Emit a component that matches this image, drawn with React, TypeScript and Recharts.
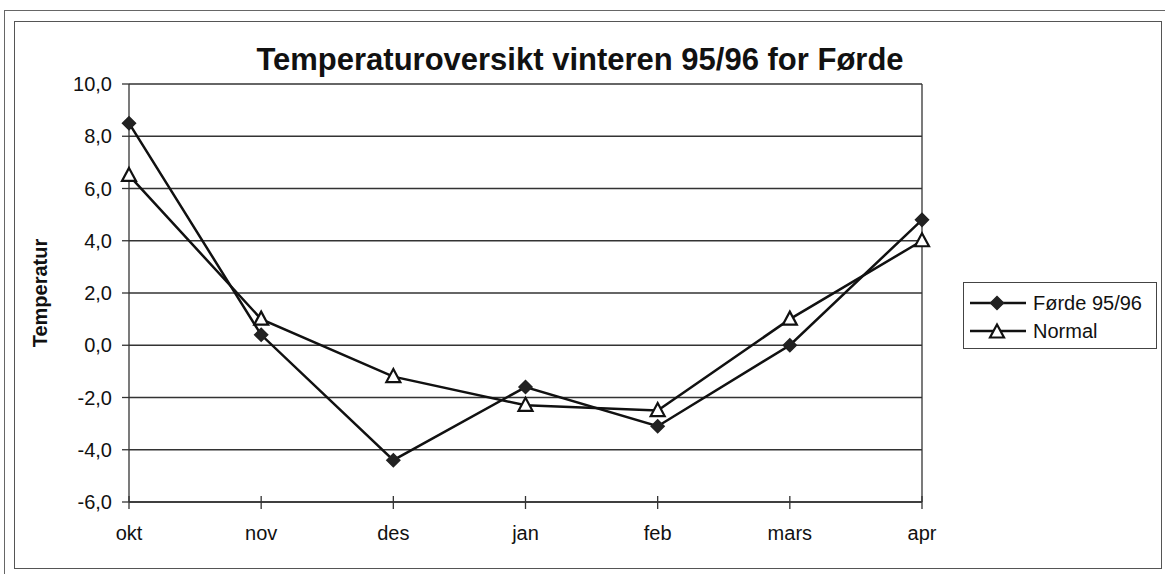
import { LineChart, Line, XAxis, YAxis, CartesianGrid, Legend, ReferenceLine } from 'recharts'

const months = ['okt', 'nov', 'des', 'jan', 'feb', 'mars', 'apr']
const forde9596 = [8.5, 0.4, -4.4, -1.6, -3.1, 0.0, 4.8]
const normal = [6.5, 1.0, -1.2, -2.3, -2.5, 1.0, 4.0]
const yTicks = [-6, -4, -2, 0, 2, 4, 6, 8, 10]

const seriesNames = { forde: 'Førde 95/96', normal: 'Normal' }
const title = 'Temperaturoversikt vinteren 95/96 for Førde'
const yLabel = 'Temperatur'

const data = months.map((m, i) => ({ month: m, forde: forde9596[i], normal: normal[i] }))

const FONT = '"Liberation Sans", Arial, sans-serif'
const INK = '#111'
const GRID = '#333'

const fmt = (v: number) => v.toFixed(1).replace('.', ',')

function Diamond({ cx, cy, r = 6.5 }: any) {
  if (cx == null || cy == null) return null
  return (
    <polygon
      points={`${cx},${cy - r} ${cx + r},${cy} ${cx},${cy + r} ${cx - r},${cy}`}
      fill="#222"
      stroke="#222"
      strokeWidth={1.5}
    />
  )
}

function Triangle({ cx, cy }: any) {
  if (cx == null || cy == null) return null
  return (
    <polygon
      points={`${cx},${cy - 7.5} ${cx + 7},${cy + 5.5} ${cx - 7},${cy + 5.5}`}
      fill="#fff"
      stroke={INK}
      strokeWidth={2.2}
    />
  )
}

function MonthTick({ x, y, payload }: any) {
  return (
    <g>
      <line x1={x} x2={x} y1={y - 6} y2={y + 7} stroke={GRID} strokeWidth={1.3} />
      <text x={x} y={y + 38} textAnchor="middle" fontSize={20} fontFamily={FONT} fill={INK}>
        {payload.value}
      </text>
    </g>
  )
}

function YTitle({ viewBox }: any) {
  const cy = viewBox ? viewBox.y + viewBox.height / 2 : 293
  return (
    <text
      x={47}
      y={cy}
      transform={`rotate(-90 47 ${cy})`}
      textAnchor="middle"
      fontSize={20}
      fontWeight="bold"
      fontFamily={FONT}
      fill={INK}
    >
      {yLabel}
    </text>
  )
}

function LegendBox() {
  const rows = [
    { name: seriesNames.forde, marker: <Diamond cx={28} cy={10} /> },
    { name: seriesNames.normal, marker: <Triangle cx={28} cy={11} /> },
  ]
  return (
    <div
      style={{
        boxSizing: 'border-box',
        width: 194,
        height: 67,
        border: '1.5px solid #444',
        padding: '6px 0 0 5px',
        fontFamily: FONT,
        fontSize: 20,
        color: INK,
        background: '#fff',
      }}
    >
      {rows.map((r) => (
        <div key={r.name} style={{ display: 'flex', alignItems: 'center', height: 28 }}>
          <svg width={58} height={20} style={{ marginRight: 6 }}>
            <line x1={1} x2={57} y1={10} y2={10} stroke={INK} strokeWidth={2.5} />
            {r.marker}
          </svg>
          <span>{r.name}</span>
        </div>
      ))}
    </div>
  )
}

export default function App() {
  return (
    <div style={{ position: 'relative', width: 1165, height: 574, background: '#fff', overflow: 'hidden' }}>
      <style>{'body{margin:0}'}</style>
      <div style={{ position: 'absolute', left: 4, top: 10, width: 1200, height: 600, border: '1.5px solid #666' }} />
      <div style={{ position: 'absolute', left: 14, top: 21, width: 1148, height: 548, boxSizing: 'border-box', border: '1.5px solid #555' }} />
      <div
        style={{
          position: 'absolute',
          left: 0,
          top: 45,
          width: 1160,
          textAlign: 'center',
          fontFamily: FONT,
          fontWeight: 'bold',
          fontSize: 31,
          lineHeight: '30px',
          color: INK,
        }}
      >
        {title}
      </div>
      <div style={{ position: 'absolute', left: 0, top: 0 }}>
        <LineChart width={1165} height={574} data={data} margin={{ top: 84, right: 243, bottom: 32, left: 9 }}>
          <CartesianGrid vertical={false} stroke={GRID} strokeWidth={1.3} />
          <XAxis
            dataKey="month"
            height={40}
            axisLine={{ stroke: GRID, strokeWidth: 1.3 }}
            tickLine={false}
            tickSize={0}
            tickMargin={0}
            tick={<MonthTick />}
            interval={0}
          />
          <YAxis
            width={120}
            domain={[-6, 10]}
            ticks={yTicks}
            tickFormatter={fmt}
            axisLine={{ stroke: GRID, strokeWidth: 1.3 }}
            tickLine={{ stroke: GRID, strokeWidth: 1.3 }}
            tickSize={7}
            tickMargin={10}
            tick={{ fontSize: 20, fontFamily: FONT, fill: INK }}
            label={<YTitle />}
            allowDataOverflow
          />
          <ReferenceLine x="apr" stroke={GRID} strokeWidth={1.3} />
          <Legend
            layout="vertical"
            align="center"
            verticalAlign="middle"
            wrapperStyle={{ left: 963, top: 282, width: 194, height: 67 }}
            content={() => <LegendBox />}
          />
          <Line
            type="linear"
            dataKey="forde"
            name={seriesNames.forde}
            stroke={INK}
            strokeWidth={2.5}
            dot={(p: any) => <Diamond key={`d${p.index}`} cx={p.cx} cy={p.cy} />}
            activeDot={false}
            isAnimationActive={false}
          />
          <Line
            type="linear"
            dataKey="normal"
            name={seriesNames.normal}
            stroke={INK}
            strokeWidth={2.5}
            dot={(p: any) => <Triangle key={`t${p.index}`} cx={p.cx} cy={p.cy} />}
            activeDot={false}
            isAnimationActive={false}
          />
        </LineChart>
      </div>
    </div>
  )
}
